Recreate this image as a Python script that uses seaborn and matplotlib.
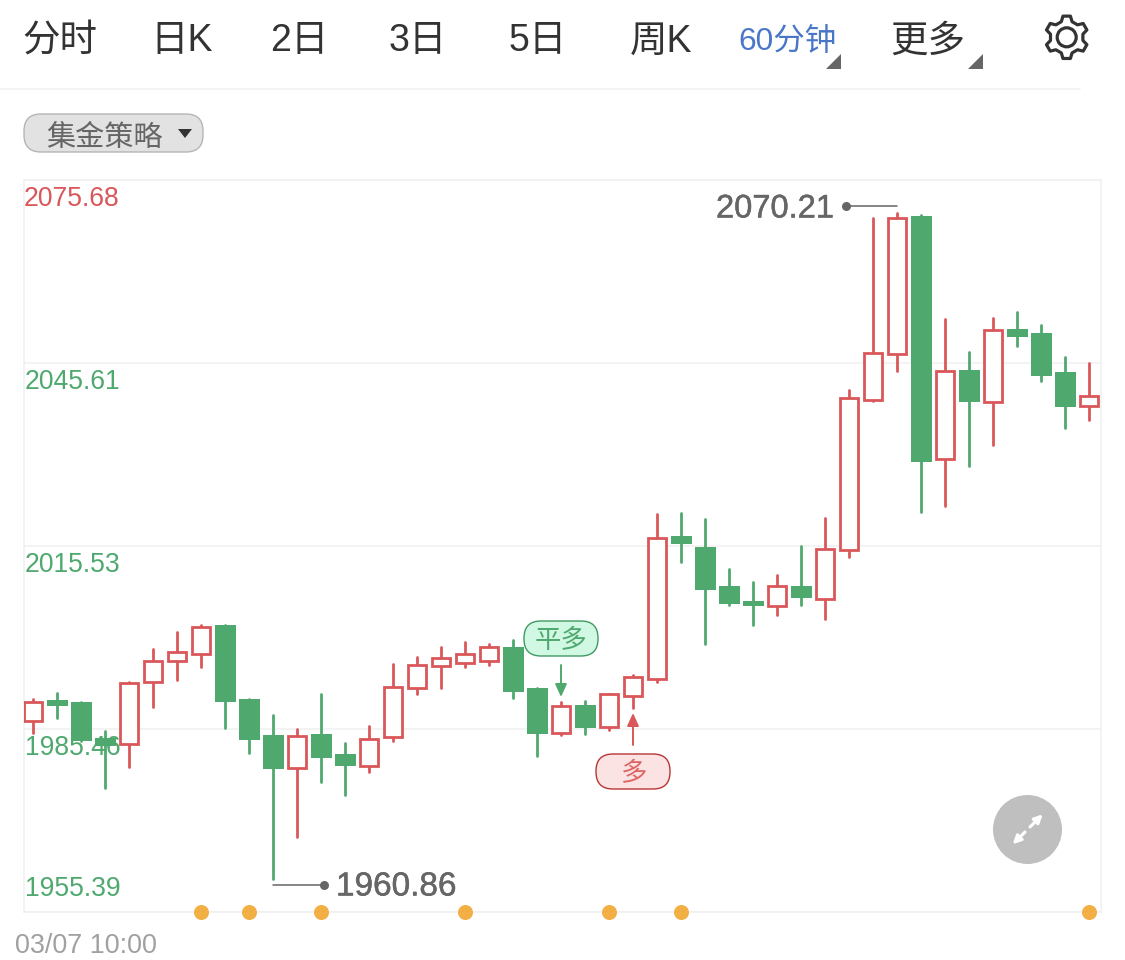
import numpy as np
import pandas as pd
import seaborn as sns
from matplotlib import pyplot as plt
from matplotlib import patheffects as pe
from matplotlib.patches import Circle, FancyBboxPatch, Polygon

# candle values (open, close, high, low)
opens = [1986.79, 1990.24, 1989.85, 1983.99, 1982.96, 1993.15, 1996.60, 1997.75, 2002.61, 1990.35,
         1984.44, 1979.06, 1984.60, 1981.41, 1979.44, 1984.11, 1992.26, 1995.87, 1996.27, 1996.64,
         1998.94, 1992.21, 1984.76, 1989.37, 1985.85, 1990.94, 1993.74, 2017.23, 2015.43, 2008.97,
         2006.55, 2005.68, 2008.92, 2006.88, 2014.93, 2039.53, 2047.04, 2069.77, 2029.79, 2044.51,
         2039.25, 2051.20, 2050.49, 2044.13, 2038.50]
closes = [1989.91, 1989.30, 1983.45, 1982.73, 1992.98, 1996.60, 1998.07, 2002.23, 1989.85, 1983.71,
          1978.85, 1984.37, 1980.66, 1979.39, 1983.88, 1992.42, 1996.04, 1997.14, 1997.75, 1998.94,
          1991.60, 1984.65, 1989.25, 1985.63, 1991.17, 1993.97, 2016.90, 2015.82, 2008.31, 2006.01,
          2005.68, 2009.02, 2007.05, 2015.10, 2039.81, 2047.26, 2069.44, 2029.30, 2044.30, 2039.15,
          2051.03, 2049.83, 2043.48, 2038.38, 2040.14]
highs = [1990.45, 1991.44, 1989.96, 1985.14, 1993.24, 1998.57, 2001.36, 2002.56, 2002.61, 1990.35,
         1987.77, 1985.52, 1991.22, 1983.17, 1985.96, 1996.20, 1997.25, 1998.94, 1999.72, 1999.39,
         2000.05, 1992.21, 1989.91, 1990.12, 1991.17, 1994.34, 2020.75, 2020.91, 2019.98, 2011.71,
         2009.63, 2010.73, 2015.59, 2020.09, 2041.18, 2069.39, 2070.21, 2069.93, 2052.89, 2047.37,
         2052.96, 2053.94, 2051.91, 2046.55, 2045.66]
lows = [1984.86, 1987.23, 1983.42, 1975.83, 1979.18, 1989.04, 1993.47, 1995.61, 1985.59, 1981.58,
        1960.86, 1967.68, 1976.81, 1974.67, 1978.40, 1983.55, 1991.17, 1992.16, 1995.61, 1995.99,
        1990.56, 1981.03, 1984.53, 1984.65, 1985.26, 1988.87, 1993.15, 2012.86, 1999.39, 2005.90,
        2002.51, 2004.25, 2005.90, 2003.60, 2013.73, 2039.42, 2044.25, 2021.13, 2022.16, 2028.74,
        2032.14, 2048.46, 2042.65, 2034.98, 2036.20]

# orange markers on the bottom axis, by candle number
event_candles = [7, 9, 12, 18, 24, 27, 44]

price_ticks = [2075.68, 2045.61, 2015.53, 1985.46, 1955.39]
price_labels = ['2075.68', '2045.61', '2015.53', '1985.46', '1955.39']
tab_labels = ['分时', '日K', '2日', '3日', '5日', '周K', '60分钟', '更多']
tab_x = [60, 182, 299, 418, 538, 661, 787, 928]

RED = '#d9575a'
GREEN = '#4fa96f'
GRID = '#f0f0f0'

sns.set_style('white')
plt.rcParams['font.family'] = ['Liberation Sans', 'Noto Sans CJK SC']

df = pd.DataFrame({'candle': np.arange(len(opens)), 'open': opens, 'close': closes, 'high': highs, 'low': lows})
df['side'] = np.where(df['close'] >= df['open'], 'up', 'down')
df['top'] = df[['open', 'close']].max(axis=1)
df['bottom'] = df[['open', 'close']].min(axis=1)

fig = plt.figure(figsize=(11.25, 9.6), dpi=100)
ax = fig.add_axes([24 / 1125, 48 / 960, 1077 / 1125, 732 / 960])

##############################################################
# candles
##############################################################
wicks = df.melt(id_vars=['candle', 'side'], value_vars=['high', 'low'], value_name='price')
sns.lineplot(data=wicks, x='candle', y='price', hue='side', units='candle', estimator=None, sort=False,
             palette={'up': RED, 'down': GREEN}, linewidth=2.0, legend=False, ax=ax, zorder=3)

up = df[df['side'] == 'up']
down = df[df['side'] == 'down']
ax.bar(up['candle'], up['top'] - up['bottom'], bottom=up['bottom'], width=0.75,
       facecolor='white', edgecolor=RED, linewidth=2.0, zorder=4)
ax.bar(down['candle'], down['top'] - down['bottom'], bottom=down['bottom'], width=0.875,
       color=GREEN, linewidth=0, zorder=4)

ax.set_xlim(-0.39, 44.485)
ax.set_ylim(price_ticks[-1], price_ticks[0])
ax.set_xlabel('')
ax.set_ylabel('')
ax.set_xticks([])
ax.set_yticks(price_ticks)
ax.set_yticklabels([])
ax.tick_params(length=0)
ax.grid(axis='y', color=GRID, linewidth=1.1, zorder=0)
ax.set_axisbelow(True)
for s in ax.spines.values():
    s.set_color(GRID)
    s.set_linewidth(1.1)

# price labels sit inside the plot, under the candles
for p, lab in zip(price_ticks, price_labels):
    clr = RED if p == price_ticks[0] else GREEN
    off = 23 if p == price_ticks[-1] else -19
    xoff = 0 if p == price_ticks[0] else 0.7
    ax.annotate(lab, xy=(0, p), xycoords=('axes fraction', 'data'), xytext=(xoff, off * 0.72),
                textcoords='offset points', fontsize=19.1, color=clr, va='center', ha='left', zorder=1)

sns.scatterplot(x=event_candles, y=[price_ticks[-1]] * len(event_candles), color='#f2b044', s=117,
                linewidth=0, clip_on=False, ax=ax, zorder=6)

##############################################################
# page furniture, in picture pixels
##############################################################
ui = fig.add_axes([0, 0, 1, 1], zorder=5)
ui.set_xlim(0, 1125)
ui.set_ylim(960, 0)
ui.axis('off')

for lab, x in zip(tab_labels, tab_x):
    active = lab == '60分钟'
    ui.text(x, 42 if active else 41.5, lab, ha='center', va='center', fontsize=22.7 if active else 27,
            color='#4a76c8' if active else '#333333')
for right in [841, 983]:
    ui.add_patch(Polygon([(right, 54), (right, 69), (right - 15, 69)], closed=True, color='#666666', lw=0))

# settings gear
ang = []
rad = []
for k in range(6):
    c = 90 + 60 * k
    ang += [c - 19, c - 10, c + 10, c + 19]
    rad += [16.5, 21.5, 21.5, 16.5]
ang = np.radians(ang)
gear = np.column_stack([1066.7 + np.array(rad) * np.cos(ang), 37.3 + np.array(rad) * np.sin(ang)])
ui.add_patch(Polygon(gear, closed=True, fill=False, edgecolor='#333333', lw=2.3, joinstyle='round'))
ui.add_patch(Circle((1066.7, 37.3), 9.5, fill=False, edgecolor='#333333', lw=2.3))

ui.plot([0, 1080], [89, 89], color='#f2f2f2', lw=1.2)

# strategy pill
ui.add_patch(FancyBboxPatch((24, 114), 179, 38, boxstyle='round,pad=0,rounding_size=17',
                            facecolor='#e2e2e2', edgecolor='#b5b5b5', lw=1))
ui.text(104.5, 138, '集金策略', ha='center', va='center', fontsize=21, color='#666666')
ui.add_patch(Polygon([(178, 129), (192, 129), (185, 138)], closed=True, color='#333333', lw=0))

# callouts, the numbers are a little heavier than the rest
heavy = [pe.withStroke(linewidth=0.35, foreground='#666666')]
ui.plot([846, 897], [206, 206], color='#666666', lw=1.1)
ui.plot([846], [206], 'o', color='#666666', ms=6.5, mew=0)
ui.text(834, 209, '2070.21', ha='right', va='center', fontsize=23.5, color='#666666', path_effects=heavy)
ui.plot([273, 324], [885, 885], color='#666666', lw=1.1)
ui.plot([324], [885], 'o', color='#666666', ms=6.5, mew=0)
ui.text(336, 887, '1960.86', ha='left', va='center', fontsize=24, color='#666666', path_effects=heavy)

# trade signals
ui.add_patch(FancyBboxPatch((524, 621), 74, 35, boxstyle='round,pad=0,rounding_size=17',
                            facecolor='#d0f8e2', edgecolor='#3f9a63', lw=1))
ui.text(561, 641, '平多', ha='center', va='center', fontsize=19, color=GREEN)
ui.annotate('', xy=(561, 697), xytext=(561, 665),
            arrowprops=dict(arrowstyle='-|>,head_length=0.55,head_width=0.25', color=GREEN, lw=1.4,
                            shrinkA=0, shrinkB=0, mutation_scale=14))
ui.add_patch(FancyBboxPatch((596, 754), 74, 35, boxstyle='round,pad=0,rounding_size=17',
                            facecolor='#fbe3e3', edgecolor='#b83535', lw=1))
ui.text(633, 774, '多', ha='center', va='center', fontsize=19, color='#e06666')
ui.annotate('', xy=(633, 713), xytext=(633, 745),
            arrowprops=dict(arrowstyle='-|>,head_length=0.55,head_width=0.25', color=RED, lw=1.4,
                            shrinkA=0, shrinkB=0, mutation_scale=14))

# expand button
ui.add_patch(Circle((1027.5, 829.5), 34.5, color='#bfbfbf', lw=0))
ui.annotate('', xy=(1042.7, 814.3), xytext=(1030, 827),
            arrowprops=dict(arrowstyle='-|>', color='white', lw=2.2, shrinkA=0, shrinkB=0, mutation_scale=12))
ui.annotate('', xy=(1012.7, 844.3), xytext=(1025, 832),
            arrowprops=dict(arrowstyle='-|>', color='white', lw=2.2, shrinkA=0, shrinkB=0, mutation_scale=12))

ui.text(15, 946, '03/07 10:00', ha='left', va='center', fontsize=19.4, color='#a0a0a0')

fig.savefig('out.png', dpi=100)
